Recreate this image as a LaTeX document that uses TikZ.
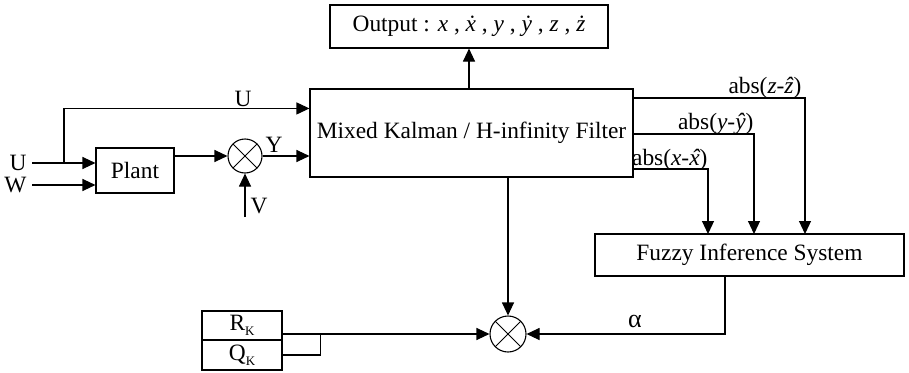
\documentclass[tikz,border=0pt]{standalone}
\usepackage{fontspec}
\setmainfont{Liberation Serif}
\usetikzlibrary{arrows.meta,calc}

% italic letter with a circumflex set over it
\newcommand{\hatover}[1]{\ooalign{\textit{#1}\cr\hidewidth\kern0.12em\textit{ˆ}\hidewidth\cr}}

\begin{document}
\begin{tikzpicture}[x=1pt,y=-1pt,
    line width=1.1pt,
    every node/.style={font=\fontsize{23.4}{27}\selectfont, text=black},
    arr/.style={-{Triangle[length=13pt,width=12pt]}},
    blockbox/.style={draw, rectangle, inner sep=0pt},
    mixer/.style={draw, circle, inner sep=0pt, minimum size=#1,
      path picture={
        \draw[line width=0.9pt] (path picture bounding box.south west) -- (path picture bounding box.north east)
              (path picture bounding box.north west) -- (path picture bounding box.south east);}},
    lbl/.style={inner sep=0pt}]

  \useasboundingbox (0,0) rectangle (909,372);

  % blocks
  \node[blockbox, minimum width=278pt, minimum height=43pt] (out) at (469,26.5)
    {Output : \textit{x} , \textit{ẋ} , \textit{y} , \textit{ẏ} , \textit{z} , \textit{ż}};
  \node[blockbox, minimum width=323pt, minimum height=88pt] (filt) at (471.5,133)
    {Mixed Kalman / H-infinity Filter};
  \node[blockbox, minimum width=78pt, minimum height=45pt] (plant) at (135,170.5) {Plant};
  \node[blockbox, minimum width=309pt, minimum height=42pt] (fis) at (749.5,255)
    {Fuzzy Inference System};
  \node[blockbox, minimum width=80pt, minimum height=29pt] (rk) at (242,325.5)
    {R\raisebox{-5pt}{\fontsize{13}{13}\selectfont K}};
  \node[blockbox, minimum width=80pt, minimum height=30pt] (qk) at (242,355)
    {Q\raisebox{-5pt}{\fontsize{13}{13}\selectfont K}};

  % multiplying junctions
  \node[mixer=34pt] (m1) at (245,156) {};
  \node[mixer=36pt] (m2) at (508,334) {};

  % free ends and corners
  \coordinate (uin) at (32,163);
  \coordinate (win) at (32,185);
  \coordinate (br)  at (64,163);
  \coordinate (vin) at (245,217);
  \coordinate (ez) at (633,98);
  \coordinate (ey) at (633,134);
  \coordinate (ex) at (633,169);
  \coordinate (fz) at (805,234);
  \coordinate (fy) at (754,234);
  \coordinate (fx) at (708,234);
  \coordinate (fa) at (725,276);
  \path (rk.east |- m2) ++(38,0) coordinate (kj);

  % inputs
  \node[lbl, anchor=east] (ulbl) at (27,163) {U};
  \node[lbl, anchor=east] (wlbl) at (27,185) {W};
  \draw[arr] (uin) -- (plant.west |- uin);
  \draw[arr] (win) -- (plant.west |- win);
  \draw[arr] (br) |- ($(filt.north west)+(0,20)$);
  \node[lbl] (utop) at (243,99) {U};

  % measurement path
  \draw[arr] (plant.east |- m1) -- (m1);
  \draw[arr] (m1) -- (filt.west |- m1);
  \draw[arr] (vin) -- (m1);
  \node[lbl] (ylbl) at (274,145) {Y};
  \node[lbl] (vlbl) at (259,206) {V};

  % filter outputs
  \draw[arr] (out.south |- filt.north) -- (out.south);
  \draw[arr] (filt.south -| m2) -- (m2);

  % error magnitudes into the fuzzy system
  \draw[arr] (ez) -| (fz);
  \draw[arr] (ey) -| (fy);
  \draw[arr] (ex) -| (fx);
  \node[lbl, anchor=base east] (lz) at (802,93) {abs(\textit{z}-\textit{ẑ})};
  \node[lbl, anchor=base east] (ly) at (754,129) {abs(\textit{y}-\textit{ŷ})};
  \node[lbl, anchor=base east] (lx) at (708,165) {abs(\textit{x}-\hatover{x})};

  % weighting factor
  \draw[arr] (fa) |- (m2);
  \node[lbl] (alpha) at (635,321) {\fontsize{26}{28}\selectfont α};

  % covariance matrices
  \draw[arr] (rk.east |- m2) -- (m2);
  \draw (qk.east) -| (kj);
\end{tikzpicture}
\end{document}
